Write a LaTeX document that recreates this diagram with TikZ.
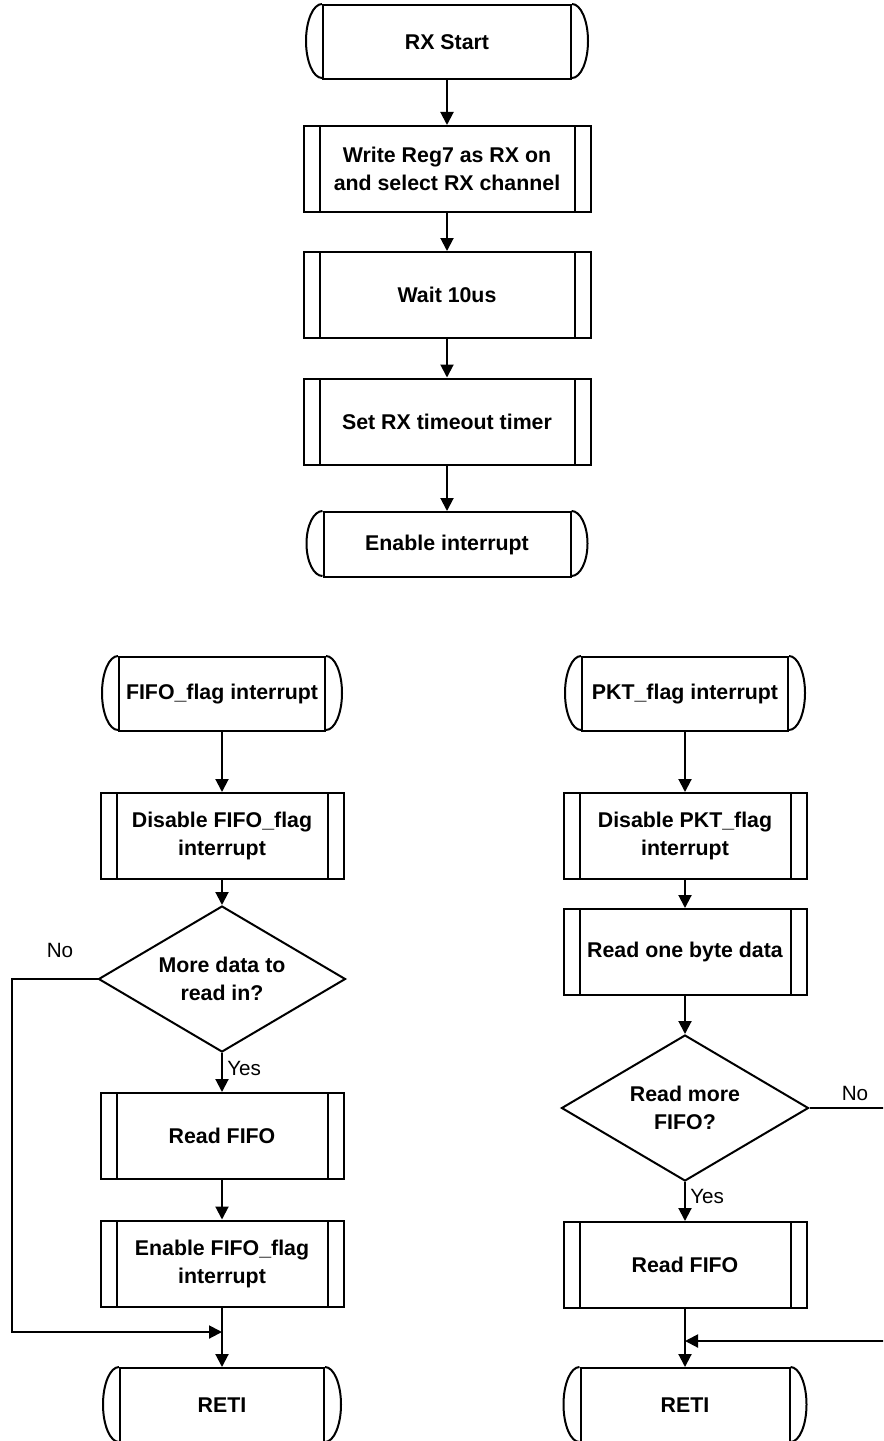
\documentclass[tikz,border=0pt]{standalone}
\usepackage{fontspec}
\setmainfont{Liberation Sans}
\usetikzlibrary{arrows.meta,shapes.geometric}
\tikzset{
  lw/.style={line width=1.5pt},
  base/.style={lw, font=\bfseries\fontsize{16pt}{21pt}\selectfont, align=center, inner sep=0pt},
  proc/.style={base, draw, rectangle, minimum height=64.5pt, minimum width=182.25pt,
    path picture={\draw[lw]
      ([xshift=12pt]path picture bounding box.north west) -- ([xshift=12pt]path picture bounding box.south west)
      ([xshift=-12pt]path picture bounding box.north east) -- ([xshift=-12pt]path picture bounding box.south east);}},
  terminal/.style={base, draw, rectangle, minimum height=55.5pt, minimum width=154.5pt},
  decision/.style={base, draw, shape=diamond, aspect=1.69, minimum width=185.25pt, minimum height=109.5pt},
  arr/.style={lw, -{Triangle[length=9.75pt,width=9.75pt]}},
  conn/.style={lw},
  lab/.style={font=\fontsize{15.5pt}{18pt}\selectfont, inner sep=0pt}
}
\newcommand{\tcaps}[2]{%
  \draw[lw] (#1.north west) arc[start angle=90, end angle=270, x radius=12pt, y radius=#2];
  \draw[lw] (#1.north east) arc[start angle=90, end angle=-90, x radius=12pt, y radius=#2];}
\begin{document}
\begin{tikzpicture}[x=0.75pt,y=-0.75pt]
\useasboundingbox (0,0) rectangle (883,1441);
\clip (0,0) rectangle (883,1441);
\fill[white] (0,0) rectangle (883,1441);

% top column
\node[terminal, minimum width=186pt] (start) at (447,42) {RX Start};
\tcaps{start}{27.75pt}
\node[proc, minimum width=215.25pt] (reg7) at (447,169) {Write Reg7 as RX on\\and select RX channel};
\node[proc, minimum width=215.25pt] (wait) at (447,295) {Wait 10us};
\node[proc, minimum width=215.25pt] (setrx) at (447,421.5) {Set RX timeout timer};
\node[terminal, minimum width=185.25pt, minimum height=48.75pt] (enint) at (447,544.5) {Enable interrupt};
\tcaps{enint}{24.375pt}

\draw[arr] (start) -- (reg7);
\draw[arr] (reg7) -- (wait);
\draw[arr] (wait) -- (setrx);
\draw[arr] (setrx) -- (enint);

% left column
\node[terminal] (fifo) at (222,694) {FIFO\_flag interrupt};
\tcaps{fifo}{27.75pt}
\node[proc] (disf) at (222,836) {Disable FIFO\_flag\\interrupt};
\node[decision] (dec1) at (222,979) {More data to\\read in?};
\node[proc] (readf1) at (222,1136) {Read FIFO};
\node[proc] (enf) at (222,1263.5) {Enable FIFO\_flag\\interrupt};
\node[terminal, minimum width=153pt, minimum height=56.25pt] (reti1) at (222,1405.5) {RETI};
\tcaps{reti1}{28.125pt}

\coordinate (nl) at (12,1332);
\coordinate (j1) at (222,1332);
\draw[arr] (fifo) -- (disf);
\draw[arr] (disf) -- (dec1);
\draw[arr] (dec1) -- (readf1);
\draw[arr] (readf1) -- (enf);
\draw[arr] (enf) -- (reti1);
\draw[arr] (dec1.west) -| (nl) -- (j1);
\node[lab] (no1) at (60,950) {No};
\node[lab, anchor=west] (yes1) at (227,1068) {Yes};

% right column
\node[terminal] (pkt) at (685,694) {PKT\_flag interrupt};
\tcaps{pkt}{27.75pt}
\node[proc] (dispkt) at (685,836) {Disable PKT\_flag\\interrupt};
\node[proc] (readone) at (685,952) {Read one byte data};
\node[decision] (dec2) at (685,1108) {Read more\\FIFO?};
\node[proc] (readf2) at (685,1265) {Read FIFO};
\node[terminal, minimum width=156.75pt, minimum height=56.25pt] (reti2) at (685,1405.5) {RETI};
\tcaps{reti2}{28.125pt}

\coordinate (re) at (890,1341);
\coordinate (j2) at (685,1341);
\draw[arr] (pkt) -- (dispkt);
\draw[arr] (dispkt) -- (readone);
\draw[arr] (readone) -- (dec2);
\draw[arr] (dec2) -- (readf2);
\draw[arr] (readf2) -- (reti2);
\draw[conn] (dec2.east) -- (dec2.east -| re);
\draw[arr] (re) -- (j2);
\node[lab] (no2) at (855,1093) {No};
\node[lab, anchor=west] (yes2) at (690,1196) {Yes};
\end{tikzpicture}
\end{document}
